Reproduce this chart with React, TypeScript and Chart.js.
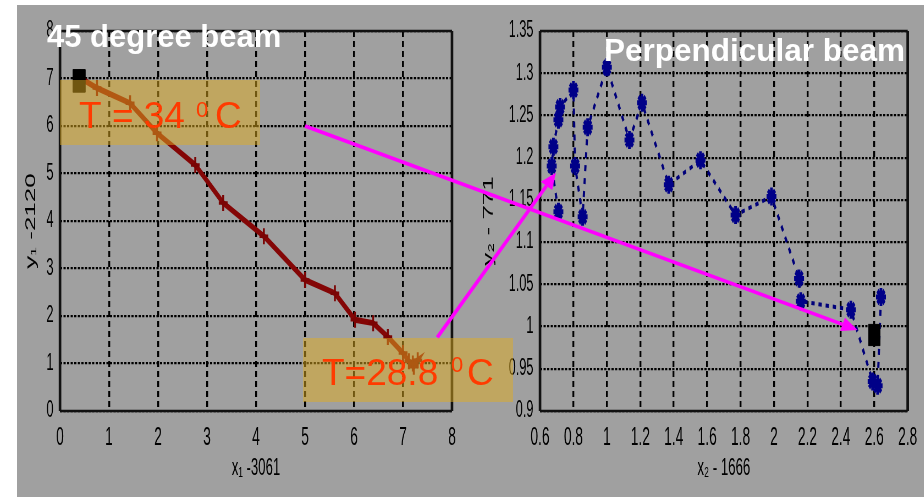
import React, { useEffect, useRef } from 'react';
import { Chart, registerables } from 'chart.js';
Chart.register(...registerables);

// horizontal compression of the original figure
const S = 0.55;

// ---- Left panel: 45 degree beam ----
const leftX = [0.4, 0.755, 1.43, 1.98, 2.76, 3.33, 4.16, 5.0, 5.61, 6.02, 6.39, 6.69, 7.0, 7.12, 7.22, 7.3, 7.2];
const leftY = [7.02, 6.8, 6.48, 5.85, 5.18, 4.38, 3.68, 2.76, 2.48, 1.92, 1.85, 1.56, 1.22, 1.05, 0.93, 1.07, 1.0];
const leftStart = { x: 0.39, y: 6.95 };
const leftXMin = 0, leftXMax = 8, leftXStep = 1;
const leftYMin = 0, leftYMax = 8, leftYStep = 1;

// ---- Right panel: perpendicular beam ----
const rightX = [2.64, 2.62, 2.59, 2.46, 2.16, 2.15, 1.985, 1.77, 1.56, 1.37, 1.21, 1.135, 1.0, 0.885, 0.855, 0.81, 0.80, 0.72, 0.71, 0.68, 0.67, 0.71];
const rightY = [1.035, 0.93, 0.935, 1.02, 1.03, 1.057, 1.154, 1.132, 1.197, 1.168, 1.265, 1.221, 1.307, 1.236, 1.13, 1.19, 1.28, 1.26, 1.245, 1.213, 1.19, 1.136];
const rightStart = { x: 2.6, y: 0.99 };
const rightXMin = 0.6, rightXMax = 2.8, rightXStep = 0.2;
const rightYMin = 0.9, rightYMax = 1.35, rightYStep = 0.05;

const FONT = '"Liberation Sans", Arial, Helvetica, sans-serif';

const framePlugin = {
  id: 'frame',
  beforeDatasetsDraw(chart: any) {
    const { ctx, chartArea } = chart;
    const { left, top, right, bottom } = chartArea;
    ctx.save();
    ctx.strokeStyle = '#111';
    ctx.lineWidth = 2.6;
    ctx.beginPath();
    ctx.moveTo(left, top); ctx.lineTo(right, top);
    ctx.moveTo(left, bottom); ctx.lineTo(right, bottom);
    ctx.stroke();
    ctx.lineWidth = 2.6 / S;
    ctx.beginPath();
    ctx.moveTo(left, top); ctx.lineTo(left, bottom);
    ctx.moveTo(right, top); ctx.lineTo(right, bottom);
    ctx.stroke();
    ctx.restore();
  },
};

const fmt = (v: any) => String(Number(Number(v).toFixed(2)));

function makeConfig(opts: any) {
  const { lineData, start, lineStyle, xr, yr, xTitle, yTitle, yAxisW, xAxisH, padRight, padTop, yTitlePad } = opts;
  return {
    type: 'scatter',
    data: {
      datasets: [
        {
          data: [start],
          pointStyle: 'rect',
          pointRadius: lineStyle.startRadius,
          backgroundColor: '#000',
          borderColor: '#000',
          pointBorderWidth: 1,
          showLine: false,
        },
        {
          data: lineData,
          showLine: true,
          borderColor: lineStyle.color,
          borderWidth: lineStyle.width,
          borderDash: lineStyle.dash,
          pointStyle: lineStyle.marker,
          pointRadius: lineStyle.markerRadius,
          pointBorderWidth: lineStyle.markerWidth,
          pointBorderColor: lineStyle.markerColor,
          pointBackgroundColor: lineStyle.markerColor,
          tension: 0,
        },
      ],
    },
    options: {
      responsive: false,
      animation: false,
      devicePixelRatio: 1,
      clip: false,
      layout: { padding: { left: 0, right: padRight, top: padTop, bottom: 0 } },
      plugins: { legend: { display: false }, tooltip: { enabled: false } },
      scales: {
        x: {
          type: 'linear',
          min: xr[0], max: xr[1],
          afterFit: (s: any) => { s.height = xAxisH; },
          ticks: { stepSize: xr[2], autoSkip: false, maxRotation: 0, padding: 12, color: '#000', font: { family: FONT, size: 25 }, callback: fmt },
          grid: { color: '#000', lineWidth: 3.4, drawTicks: false },
          border: { display: false, dash: [6, 4] },
          title: { display: true, text: xTitle, color: '#000', font: { family: FONT, size: 24 }, padding: { top: 0, bottom: 14 } },
        },
        y: {
          type: 'linear',
          min: yr[0], max: yr[1],
          afterFit: (s: any) => { s.width = yAxisW; },
          ticks: { stepSize: yr[2], autoSkip: false, padding: 12, color: '#000', font: { family: FONT, size: 23 }, callback: fmt },
          grid: { color: '#000', lineWidth: 2.2, drawTicks: false },
          border: { display: false, dash: [4, 2.5] },
          title: { display: true, text: yTitle, color: '#000', font: { family: FONT, size: 26 }, padding: { top: yTitlePad, bottom: 0 } },
        },
      },
    },
    plugins: [framePlugin],
  };
}

// canvas geometry (page px)
const L1 = { left: 17, top: 5, w: 463, h: 492 };
const L2 = { left: 480, top: 5, w: 444, h: 492 };

export default function App() {
  const c1 = useRef<HTMLCanvasElement>(null);
  const c2 = useRef<HTMLCanvasElement>(null);
  const ov = useRef<HTMLCanvasElement>(null);

  const lw1 = Math.round(L1.w / S);
  const lw2 = Math.round(L2.w / S);

  useEffect(() => {
    const ch1 = new Chart(c1.current as any, makeConfig({
      lineData: leftX.map((x, i) => ({ x, y: leftY[i] })),
      start: leftStart,
      lineStyle: { color: '#840606', width: 6, dash: [], marker: 'cross', markerRadius: 8, markerWidth: 3.5, markerColor: '#7a0404', startRadius: 16 },
      xr: [leftXMin, leftXMax, leftXStep],
      yr: [leftYMin, leftYMax, leftYStep],
      xTitle: 'x₁ -3061',
      yTitle: 'y₁ -2120',
      yAxisW: (60 - L1.left) / S,
      xAxisH: 86,
      padRight: lw1 - (452 - L1.left) / S,
      padTop: 26,
      yTitlePad: 10,
    }) as any);
    const ch2 = new Chart(c2.current as any, makeConfig({
      lineData: rightX.map((x, i) => ({ x, y: rightY[i] })),
      start: rightStart,
      lineStyle: { color: '#00007a', width: 4, dash: [6, 7], marker: 'star', markerRadius: 9, markerWidth: 5, markerColor: '#000088', startRadius: 15 },
      xr: [rightXMin, rightXMax, rightXStep],
      yr: [rightYMin, rightYMax, rightYStep],
      xTitle: 'x₂ - 1666',
      yTitle: 'y₂ - 771',
      yAxisW: (540 - L2.left) / S,
      xAxisH: 86,
      padRight: lw2 - (910 - L2.left) / S,
      padTop: 26,
      yTitlePad: 0,
    }) as any);

    const toPage = (ch: any, g: any, x: number, y: number) => [
      g.left + S * ch.scales.x.getPixelForValue(x),
      g.top + ch.scales.y.getPixelForValue(y),
    ];

    const o = (ov.current as HTMLCanvasElement).getContext('2d') as CanvasRenderingContext2D;
    o.clearRect(0, 0, 924, 497);
    // highlight boxes
    o.fillStyle = 'rgba(224,172,32,0.5)';
    o.fillRect(60, 80, 200, 65);
    o.fillRect(303, 338, 210, 64);
    // temperature labels
    o.fillStyle = '#ff3a00';
    o.textBaseline = 'alphabetic';
    o.font = `37px ${FONT}`;
    o.fillText('T = 34', 79, 128);
    o.fillText('C', 215, 128);
    o.fillText('T=28.8', 322, 385);
    o.fillText('C', 467, 385);
    o.font = `22px ${FONT}`;
    o.fillText('0', 196, 117);
    o.fillText('0', 451, 372);
    // panel titles
    o.fillStyle = '#ffffff';
    o.font = `bold 31px ${FONT}`;
    o.fillText('45 degree beam', 47, 47);
    o.font = `bold 31.5px ${FONT}`;
    o.fillText('Perpendicular beam', 604, 61);
    // arrows
    const arrow = (a: number[], b: number[]) => {
      const dx = b[0] - a[0], dy = b[1] - a[1];
      const len = Math.hypot(dx, dy);
      const ux = dx / len, uy = dy / len;
      const hl = 16, hw = 7;
      const bx = b[0] - ux * hl, by = b[1] - uy * hl;
      o.strokeStyle = '#ff00ff';
      o.fillStyle = '#ff00ff';
      o.lineWidth = 3.5;
      o.beginPath(); o.moveTo(a[0], a[1]); o.lineTo(bx, by); o.stroke();
      o.beginPath();
      o.moveTo(b[0], b[1]);
      o.lineTo(bx - uy * hw, by + ux * hw);
      o.lineTo(bx + uy * hw, by - ux * hw);
      o.closePath(); o.fill();
    };
    arrow(toPage(ch1, L1, 5, 6), toPage(ch2, L2, 2.5, 0.996));
    arrow(toPage(ch1, L1, 7.7, 1.55), toPage(ch2, L2, 0.695, 1.182));

    return () => { ch1.destroy(); ch2.destroy(); };
  }, []);

  const cstyle = (g: any, lw: number): any => ({
    position: 'absolute', left: g.left, top: g.top, width: lw, height: g.h,
    transform: `scaleX(${S})`, transformOrigin: '0 0',
  });

  return (
    <div style={{ position: 'fixed', left: 0, top: 0, width: 924, height: 497, background: '#fff', overflow: 'hidden' }}>
      <div style={{ position: 'absolute', left: 17, top: 5, width: 907, height: 492, background: '#a0a0a0' }} />
      <canvas ref={c1} width={lw1} height={L1.h} style={cstyle(L1, lw1)} />
      <canvas ref={c2} width={lw2} height={L2.h} style={cstyle(L2, lw2)} />
      <canvas ref={ov} width={924} height={497} style={{ position: 'absolute', left: 0, top: 0, width: 924, height: 497, pointerEvents: 'none' }} />
    </div>
  );
}
